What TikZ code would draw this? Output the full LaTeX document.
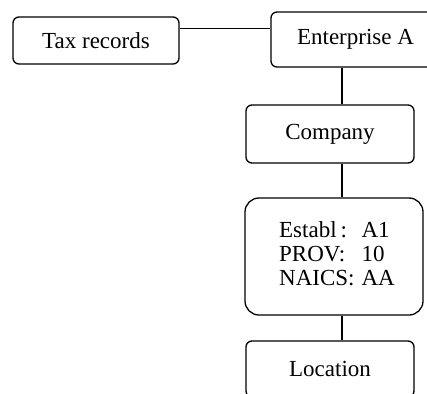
\documentclass[tikz,border=0pt]{standalone}
\usepackage{fontspec}
\setmainfont{Liberation Serif}
\begin{document}
\begin{tikzpicture}[x=1pt, y=-1pt,
  box/.style={draw, line width=1.3pt, rounded corners=6pt, inner sep=0pt,
    font=\fontsize{23}{24}\selectfont},
  link/.style={line width=1.3pt}]
  \useasboundingbox (0,0) rectangle (427,393);
  \clip (0,0) rectangle (427,393);

  \node[box, minimum width=166pt, minimum height=47pt] (tax) at (96,40.5) {Tax records};
  \node[box, minimum width=169pt, minimum height=55pt] (ent) at (355.5,39.5) {Enterprise A};
  \node[box, minimum width=168pt, minimum height=58pt] (co) at (330,134) {Company};
  \node[box, rounded corners=14pt, minimum width=178pt, minimum height=117pt] (est) at (334,256.5)
    {\hspace*{6pt}\begin{tabular}{@{}l@{\hspace{7pt}}l@{}}Establ\,: & A1\\ PROV: & 10\\ NAICS: & AA\end{tabular}};
  \node[box, minimum width=168pt, minimum height=56pt] (loc) at (330,369) {Location};

  % shared vertical spine of the hierarchy
  \coordinate (spine) at (342,0);

  \draw[link] ([yshift=-12pt]tax.north east) -- ([yshift=-12pt]tax.north east -| ent.west);
  \draw[link] (ent.south -| spine) -- (co.north -| spine);
  \draw[link] (co.south -| spine) -- (est.north -| spine);
  \draw[link] (est.south -| spine) -- (loc.north -| spine);
\end{tikzpicture}
\end{document}
